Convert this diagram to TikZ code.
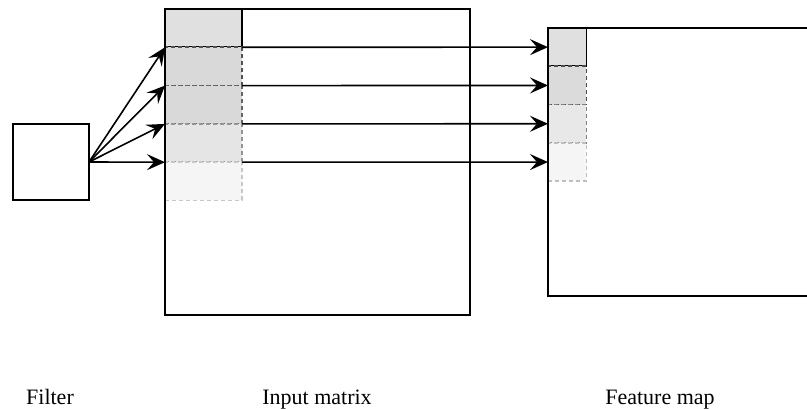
\documentclass[tikz,border=0pt]{standalone}
\usepackage{fontspec}
\setmainfont{Liberation Serif}
\usetikzlibrary{arrows.meta}
\usetikzlibrary{positioning}

\begin{document}
\begin{tikzpicture}[x=1pt, y=-1pt, line width=1.6pt,
    box/.style={draw, rectangle, inner sep=0, outer sep=0},
    win/.style={box, dash pattern=on 4pt off 3pt},
    flow/.style={-{Stealth[length=18pt, width=16pt, inset=7pt]}},
    caption/.style={font=\fontsize{22}{26}\selectfont, anchor=base}]

  \useasboundingbox (0,0) rectangle (807,409);

  \def\d{38.3};

  %filter
  \node[box, minimum width=76, minimum height=76] (filter) at (51,162) {};

  %input windows
  \node[box, fill=black!12, minimum width=77, minimum height=\d] (inA) at (203.5, 9+\d/2) {};
  \foreach \i/\fc/\bc/\name in {1/15/68/inB, 2/15/60/inC, 3/10/42/inD, 4/4/22/inE}{
      \node[win, fill=black!\fc, draw=black!\bc, minimum width=77, minimum height=\d]
          (\name) at (203.5, 9+\d/2+\i*\d) {};
  }

  %input matrix
  \node[box, minimum width=305, minimum height=306, anchor=north west] (input) at (165,9) {};

  %feature map cells
  \node[box, fill=black!12, minimum size=\d] (fmA) at (548+\d/2, 28+\d/2) {};
  \foreach \i/\fc/\bc/\name in {1/14/70/fmB, 2/9/50/fmC, 3/4/25/fmD}{
      \node[win, fill=black!\fc, draw=black!\bc, minimum size=\d]
          (\name) at (548+\d/2, 28+\d/2+\i*\d) {};
  }

  %feature map (runs off to the right)
  \node[box, minimum width=270, minimum height=268, anchor=north west] (fmap) at (548,28) {};

  %filter -> input
  \foreach \t in {inB,inC,inD,inE}{
      \draw[flow] (filter.east) -- (\t.north west);
  }

  %input -> feature map
  \foreach \s/\t in {inA/fmA, inB/fmB, inC/fmC, inD/fmD}{
      \draw[flow] (\s.south east) -- (\t.west);
  }

  %captions
  \node[caption] (lfilter) at (50,404) {Filter};
  \node[caption] (linput) at (317,404) {Input matrix};
  \node[caption] (lfmap) at (660,404) {Feature map};

\end{tikzpicture}
\end{document}
